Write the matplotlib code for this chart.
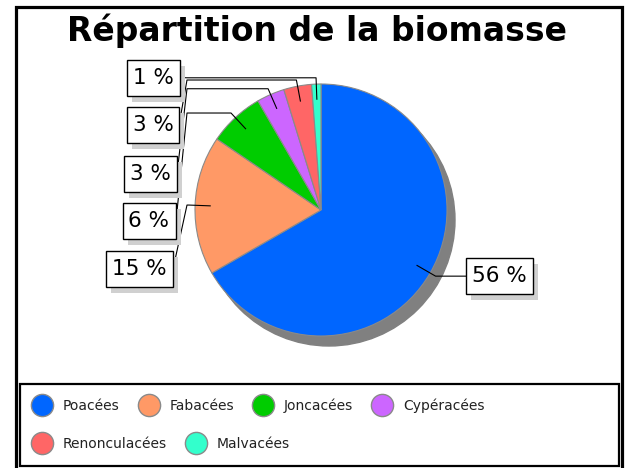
import numpy as np
import matplotlib.pyplot as plt
from matplotlib.patches import Circle, Rectangle
from matplotlib.lines import Line2D

# data
families = ['Poacées', 'Fabacées', 'Joncacées', 'Cypéracées', 'Renonculacées', 'Malvacées']
percents = [56, 15, 6, 3, 3, 1]
colors = ['#0066ff', '#ff9966', '#00cc00', '#cc66ff', '#ff6666', '#33ffcc']

W, H = 625, 468
fig = plt.figure(figsize=(W / 100, H / 100), dpi=100)
ax = fig.add_axes([0, 0, 1, 1])


def py(y):
    # pixel row (from top) -> data y
    return H - y


cx, cy, r = 321, py(210), 126

# pie shadow
ax.add_patch(Circle((cx + 8, cy - 10), r, color='#808080', zorder=1))
wedges, _ = ax.pie(percents, colors=colors, startangle=90, counterclock=False,
                   center=(cx, cy), radius=r,
                   wedgeprops=dict(edgecolor='#8a8a8a', linewidth=0.8))
for w in wedges:
    w.set_zorder(2)

ax.set_xlim(0, W)
ax.set_ylim(0, H)
ax.set_aspect('equal')
ax.axis('off')

# label boxes: (center x, center y in pixels, edge x where the leader ends)
label_pos = [
    (499.5, 276, 466),
    (139.5, 269, 173),
    (149, 221, 176),
    (150.5, 173.5, 177),
    (153, 125, 179),
    (153.5, 77.5, 180),
]

fig.canvas.draw()
renderer = fig.canvas.get_renderer()
box_h = 36
for w, pct, (bx, by, ex) in zip(wedges, percents, label_pos):
    t = ax.text(bx, py(by), f'{pct} %', fontsize=15.5, ha='center', va='center', zorder=7)
    tw = t.get_window_extent(renderer).width
    bw = tw + 12
    ax.add_patch(Rectangle((bx - bw / 2 + 5, py(by) - box_h / 2 - 6), bw, box_h,
                           fc='#d0d0d0', ec='none', zorder=5))
    ax.add_patch(Rectangle((bx - bw / 2, py(by) - box_h / 2), bw, box_h,
                           fc='white', ec='black', lw=1.0, zorder=6))
    th = np.deg2rad((w.theta1 + w.theta2) / 2)
    p0 = (cx + 0.88 * r * np.cos(th), cy + 0.88 * r * np.sin(th))
    p1 = (cx + 1.05 * r * np.cos(th), cy + 1.05 * r * np.sin(th))
    if bx > cx:
        xs = [p0[0], p1[0], ex]
        ys = [p0[1], p1[1], p1[1]]
    else:
        xs = [p0[0], p1[0], 187, ex]
        ys = [p0[1], p1[1], p1[1], py(by)]
    ax.plot(xs, ys, color='black', lw=0.8, zorder=4)

# title
ax.text(317, py(31), 'Répartition de la biomasse', fontsize=23.8, fontweight='bold',
        ha='center', va='center')

# outer frame and legend box
ax.add_patch(Rectangle((16, -5), 606, py(7) + 5, fill=False, ec='black', lw=2.3, zorder=8))
ax.add_patch(Rectangle((20, py(466)), 599, 82, fill=False, ec='black', lw=1.6, zorder=8))


def handle(c):
    return Line2D([], [], marker='o', markersize=16, linestyle='none',
                  markerfacecolor=c, markeredgecolor='#8a8a8a', markeredgewidth=1)


rows = [(0, 4, 406), (4, 6, 444)]
for a, b, yrow in rows:
    leg = fig.legend([handle(c) for c in colors[a:b]], families[a:b], ncol=b - a,
                     loc='center left', bbox_to_anchor=(31.6 / W, py(yrow) / H),
                     frameon=False, fontsize=10, handlelength=1.5, handletextpad=0.76,
                     columnspacing=1.33, borderpad=0, borderaxespad=0)
    for txt in leg.get_texts():
        txt.set_color('#222222')

fig.savefig('out.png', dpi=100)
